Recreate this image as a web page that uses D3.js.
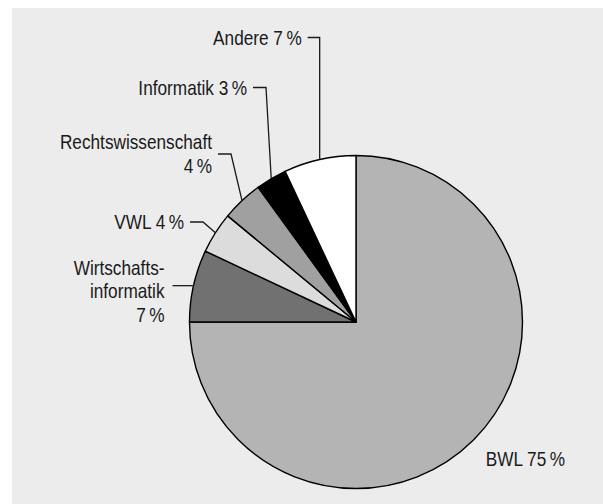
<!DOCTYPE html>
<html>
<head>
<meta charset="utf-8">
<script src="https://cdn.jsdelivr.net/npm/d3@7"></script>
<style>
  html, body { margin: 0; padding: 0; background: #ffffff; }
  svg { display: block; }
  text { font-family: "Liberation Sans", Arial, sans-serif; font-size: 21px; fill: #1a1a1a; }
</style>
</head>
<body>
<svg id="chart" width="603" height="504"></svg>
<script>
// ---- data ----
const categories = ["BWL", "Wirtschaftsinformatik", "VWL", "Rechtswissenschaft", "Informatik", "Andere"];
const values = [75, 7, 4, 4, 3, 7];
const labelLines = [
  ["BWL"],
  ["Wirtschafts-", "informatik"],
  ["VWL"],
  ["Rechtswissenschaft"],
  ["Informatik"],
  ["Andere"]
];
const fills = ["#b4b4b4", "#717171", "#dcdcdc", "#a0a0a0", "#000000", "#ffffff"];

// ---- layout ----
const W = 603, H = 504;
const cx = 356, cy = 322, R = 166.5;
const SX = 0.82; // horizontal condensing of the label font
const labelLayout = [
  { leader: false, tx: 565, ty: 466 },
  { leader: true, kx: null, ky: null, dash: 21, gap: 8, lines: "stack3" },
  { leader: true, kx: 203, ky: 222, dash: 13, gap: 6, lines: "single" },
  { leader: true, kx: 231, ky: 154, dash: 13, gap: 6, lines: "stack2" },
  { leader: true, kx: 266, ky: 87.5, dash: 13, gap: 6, lines: "single" },
  { leader: true, kx: null, ky: 37.5, dash: 12, gap: 6, lines: "single" }
];

const svg = d3.select("#chart");

svg.append("rect").attr("x", 12).attr("y", 8).attr("width", W - 12).attr("height", H - 8).attr("fill", "#ececec");

const data = categories.map((c, i) => ({ name: c, value: values[i], fill: fills[i], lines: labelLines[i], layout: labelLayout[i] }));

const pie = d3.pie().value(d => d.value).sort(null);
const arcs = pie(data);
const arc = d3.arc().innerRadius(0).outerRadius(R);

const g = svg.append("g").attr("transform", `translate(${cx},${cy})`);
g.selectAll("path.slice").data(arcs).join("path")
  .attr("class", "slice")
  .attr("d", arc)
  .attr("fill", d => d.data.fill)
  .attr("stroke", "#000")
  .attr("stroke-width", 1.4)
  .attr("stroke-linejoin", "round");

const pct = v => v + "\u2009%";

function label(x, rows) {
  const t = svg.append("text").attr("text-anchor", "end")
    .attr("transform", `translate(${x},0) scale(${SX},1)`);
  rows.forEach(r => t.append("tspan").attr("x", 0).attr("y", r.y).text(r.text));
}

arcs.forEach(a => {
  const L = a.data.layout;
  const lines = a.data.lines;
  if (!L.leader) {
    label(L.tx, [{ y: L.ty, text: lines[0] + " " + pct(a.data.value) }]);
    return;
  }
  const mid = (a.startAngle + a.endAngle) / 2;
  const ex = cx + R * Math.sin(mid);
  const ey = cy - R * Math.cos(mid);
  const kx = L.kx === null ? ex : L.kx;
  const ky = L.ky === null ? ey : L.ky;
  const dx0 = kx - L.dash;
  svg.append("path")
    .attr("d", `M${ex},${ey} L${kx},${ky} L${dx0},${ky}`)
    .attr("fill", "none").attr("stroke", "#1a1a1a").attr("stroke-width", 1.3);
  const tx = dx0 - L.gap;
  if (L.lines === "single") {
    label(tx, [{ y: ky + 7.5, text: lines[0] + " " + pct(a.data.value) }]);
  } else if (L.lines === "stack2") {
    label(tx, [{ y: ky - 5, text: lines[0] }, { y: ky + 19.5, text: pct(a.data.value) }]);
  } else {
    label(tx, [{ y: ky - 11, text: lines[0] }, { y: ky + 12.5, text: lines[1] }, { y: ky + 36, text: pct(a.data.value) }]);
  }
});
</script>
</body>
</html>
